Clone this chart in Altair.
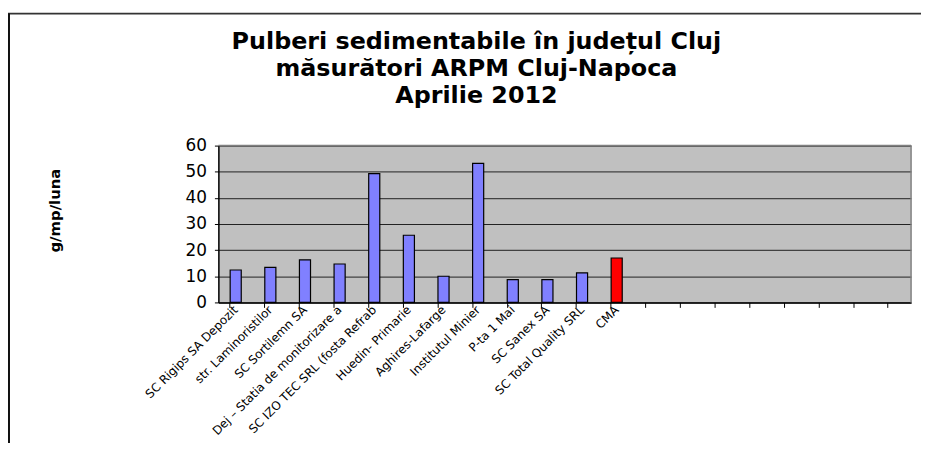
import altair as alt
import pandas as pd

# --- data ---
categories = [
    "SC Rigips SA Depozit",
    "str. Laminoristilor",
    "SC Sortilemn SA",
    "Dej – Statia de monitorizare a",
    "SC IZO TEC SRL (fosta Refrab",
    "Huedin- Primarie",
    "Aghires-Lafarge",
    "Institutul Minier",
    "P-ta 1 Mai",
    "SC Sanex SA",
    "SC Total Quality SRL",
    "CMA",
]
values = [12.4, 13.4, 16.3, 14.7, 49.3, 25.7, 10.0, 53.2, 8.7, 8.7, 11.3, 17.0]
empty_slots = ["_13", "_14", "_15", "_16", "_17", "_18", "_19", "_20"]
y_ticks = [0, 10, 20, 30, 40, 50, 60]
title_lines = ["Pulberi sedimentabile în județul Cluj", "măsurători ARPM Cluj-Napoca", "Aprilie 2012"]

df = pd.DataFrame({"cat": categories, "val": values})
one = pd.DataFrame({"k": [0]})
domain = categories + empty_slots

FONT = "DejaVu Sans"
W, H = 698, 158
PAD_L, PAD_T = 212, 137

bars = alt.Chart(df).mark_bar(stroke="black", strokeWidth=1.2).encode(
    x=alt.X(
        "cat:N",
        sort=domain,
        scale=alt.Scale(domain=domain, paddingInner=0.68, paddingOuter=0.34),
        axis=alt.Axis(
            title=None,
            bandPosition=0,
            labelAngle=-45,
            labelAlign="right",
            labelBaseline="middle",
            labelFont=FONT,
            labelFontSize=12,
            labelColor="black",
            labelPadding=0,
            labelExpr="indexof(datum.value, '_') == 0 ? '' : datum.value",
            labelOverlap=False,
            labelLimit=300,
            tickColor="black",
            tickSize=5,
            domainColor="black",
            domainWidth=1.5,
            grid=False,
        ),
    ),
    y=alt.Y(
        "val:Q",
        scale=alt.Scale(domain=[0, 60], nice=False),
        axis=alt.Axis(
            title="g/mp/luna",
            values=y_ticks,
            titleFont=FONT,
            titleFontSize=15,
            titleFontWeight="bold",
            titleColor="black",
            titleAngle=270,
            titleX=-165,
            titleY=65,
            titleAlign="center",
            titleBaseline="middle",
            labelFont=FONT,
            labelFontSize=17,
            labelColor="black",
            labelPadding=8,
            tickColor="black",
            tickSize=4,
            domainColor="black",
            domainWidth=1.5,
            grid=True,
            gridColor="#202020",
            gridWidth=1,
        ),
    ),
    color=alt.condition(alt.datum.cat == "CMA", alt.value("#FF0000"), alt.value("#8080FF")),
)

border_top = alt.Chart(one).mark_rule(color="#808080", strokeWidth=1.5).encode(
    x=alt.value(0), x2=alt.value(W), y=alt.value(0)
)
border_right = alt.Chart(one).mark_rule(color="#808080", strokeWidth=1.5).encode(
    x=alt.value(W), y=alt.value(0), y2=alt.value(H)
)
frame_top = alt.Chart(one).mark_rule(color="#333333", strokeWidth=2).encode(
    x=alt.value(-PAD_L), x2=alt.value(W + 12), y=alt.value(12 - 145)
)
frame_left = alt.Chart(one).mark_rule(color="#111111", strokeWidth=2).encode(
    x=alt.value(-PAD_L + 1), y=alt.value(12 - 145), y2=alt.value(H + 150)
)
title = alt.Chart(one).mark_text(
    font=FONT, fontSize=24, fontWeight="bold", color="black",
    lineHeight=27, align="center", baseline="alphabetic",
).encode(
    text=alt.value(title_lines), x=alt.value(480 - 220), y=alt.value(48 - 145)
)

chart = (
    alt.layer(frame_top, frame_left, title, border_top, border_right, bars)
    .properties(
        width=W,
        height=H,
        background="white",
        autosize=alt.AutoSizeParams(type="none"),
        padding={"left": PAD_L, "top": PAD_T, "right": 10, "bottom": 140},
    )
    .configure_view(fill="#C0C0C0", strokeWidth=0)
)

chart.save("out.html", embed_options={"renderer": "svg", "actions": False})
